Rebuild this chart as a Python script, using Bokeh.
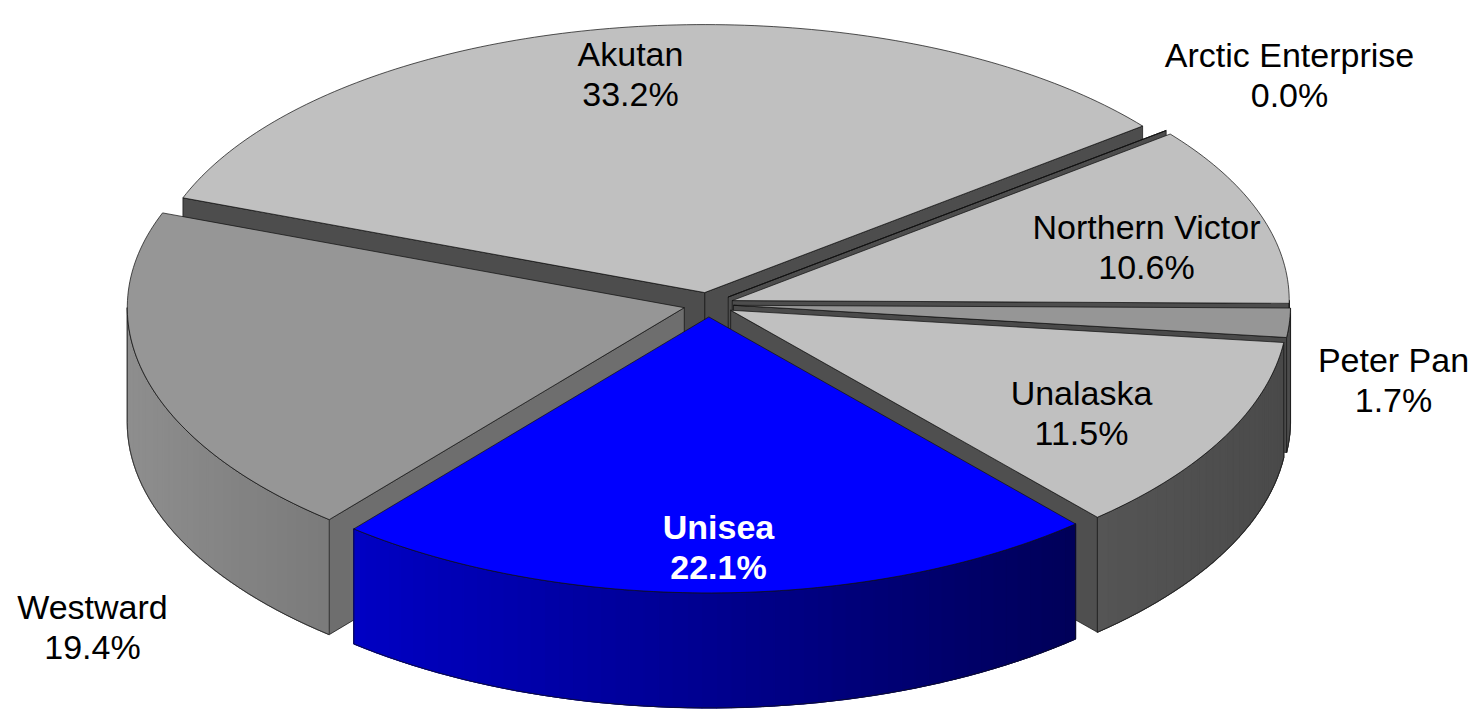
import numpy as np
from bokeh.plotting import figure
from bokeh.models import Range1d, ColumnDataSource
from bokeh.embed import file_html
from bokeh.resources import INLINE
from bokeh.core.properties import value

# ---------------- data ----------------
companies = ["Akutan", "Arctic Enterprise", "Northern Victor", "Peter Pan",
             "Unalaska", "Unisea", "Westward"]
share_pct = [33.2, 0.0, 10.6, 1.7, 11.5, 22.1, 19.4]

# ---------------- styles ----------------
top_fill = ["#c0c0c0", "#969696", "#c0c0c0", "#969696", "#c0c0c0", "#0000ff", "#969696"]
radial_fill = ["#4d4d4d", "#4d4d4d", "#4d4d4d", "#4a4a4a", "#4f4f4f", "#0000a0", "#6e6e6e"]
outer_left = ["#4d4d4d", "#4d4d4d", "#4d4d4d", "#4d4d4d", "#555555", "#0000c4", "#8e8e8e"]
outer_right = ["#4d4d4d", "#4d4d4d", "#4d4d4d", "#4a4a4a", "#4a4a4a", "#000058", "#7a7a7a"]
label_color = ["black", "black", "black", "black", "black", "white", "black"]
label_style = ["normal", "normal", "normal", "normal", "normal", "bold", "normal"]
# label layout: centre x and first-line baseline (page pixels)
label_anchor = [(630, 53), (1289, 54), (1146, 226), (1393, 359), (1081, 392), (718, 526), (92, 606)]

# ---------------- geometry ----------------
CX, CY = 708.0, 304.0
A = 557.0
B_BACK, B_FRONT = 268.0, 276.0
DEPTH = 115.0
EXPLODE = 0.045
START = np.deg2rad(200.5)
FONT = "Liberation Sans"
FSIZE = "34px"
LINE_GAP = 40


def bscale(th):
    return (B_BACK + B_FRONT) / 2 + (B_FRONT - B_BACK) / 2 * np.sin(th)


def hex2rgb(h):
    h = h.lstrip("#")
    return np.array([int(h[i:i + 2], 16) for i in (0, 2, 4)], dtype=float)


def rgb2hex(c):
    c = np.clip(np.round(c), 0, 255).astype(int)
    return "#%02x%02x%02x" % tuple(c)


total = float(sum(share_pct))
spans = [v / total * 2 * np.pi for v in share_pct]
starts = START + np.concatenate([[0.0], np.cumsum(spans)[:-1]])


def rim(th, ox, oy, z=0.0):
    return CX + ox + A * np.cos(th), CY + oy + bscale(th) * np.sin(th) + z


radial_walls = []   # (key, xs, ys, color)
outer_walls = []    # (key, quads, outline xs, ys, mid color)
tops = []           # (xs, ys, color)

for i in range(len(companies)):
    s = starts[i] % (2 * np.pi)
    e = s + spans[i]
    m = s + spans[i] / 2
    ox = EXPLODE * A * np.cos(m)
    oy = EXPLODE * bscale(m) * np.sin(m)
    apx, apy = CX + ox, CY + oy

    # top face
    n = max(2, int(np.degrees(spans[i])) + 2)
    th = np.linspace(s, e, n)
    rx, ry = rim(th, ox, oy)
    tops.append(([apx] + list(rx), [apy] + list(ry), top_fill[i]))

    # radial walls that face the viewer
    for phi, visible in ((s, np.cos(s) < 0), (e, np.cos(e) > 0)):
        if visible:
            px, py = rim(phi, ox, oy)
            xs = [apx, px, px, apx]
            ys = [apy, py, py + DEPTH, apy + DEPTH]
            radial_walls.append(((apy + py) / 2, xs, ys, radial_fill[i]))

    # outer (curved) walls on the front half
    for k in (0.0, 2 * np.pi):
        lo, hi = max(s, k), min(e, k + np.pi)
        if hi - lo > 1e-6:
            nn = max(2, int(np.degrees(hi - lo) / 1.5) + 2)
            th = np.linspace(lo, hi, nn)
            tx, ty = rim(th, ox, oy)
            bx, by = rim(th, ox, oy, DEPTH)
            xl, xr = tx.min(), tx.max()
            cl, cr = hex2rgb(outer_left[i]), hex2rgb(outer_right[i])
            quads = []
            for j in range(nn - 1):
                xm = (tx[j] + tx[j + 1]) / 2
                t = 0.0 if xr == xl else (xr - xm) / (xr - xl)
                col = rgb2hex(cr * (1 - t) + cl * t)
                quads.append(([tx[j], tx[j + 1], bx[j + 1], bx[j]],
                              [ty[j], ty[j + 1], by[j + 1], by[j]], col))
            oxs = list(tx) + list(bx[::-1])
            oys = list(ty) + list(by[::-1])
            outer_walls.append((float(np.mean(ty)), quads, oxs, oys, rgb2hex((cl + cr) / 2)))

# ---------------- figure ----------------
W, H = 1475, 709
p = figure(width=W, height=H, x_range=Range1d(0, W), y_range=Range1d(H, 0),
           output_backend="svg", toolbar_location=None, min_border=0)
p.axis.visible = False
p.grid.visible = False
p.outline_line_color = None
p.background_fill_color = "white"
p.border_fill_color = "white"

EDGE = dict(line_color="#111111", line_width=0.8, line_alpha=0.9)

radial_walls.sort(key=lambda r: r[0])
if radial_walls:
    src = ColumnDataSource(dict(xs=[r[1] for r in radial_walls], ys=[r[2] for r in radial_walls],
                                c=[r[3] for r in radial_walls]))
    p.patches("xs", "ys", source=src, fill_color="c", **EDGE)

outer_walls.sort(key=lambda r: r[0])
for key, quads, oxs, oys, midc in outer_walls:
    p.patch(oxs, oys, fill_color=midc, line_color=midc, line_width=1)
    src = ColumnDataSource(dict(xs=[q[0] for q in quads], ys=[q[1] for q in quads],
                                c=[q[2] for q in quads]))
    p.patches("xs", "ys", source=src, fill_color="c", line_color="c", line_width=1.2)
    p.patch(oxs, oys, fill_alpha=0, **EDGE)

src = ColumnDataSource(dict(xs=[t[0] for t in tops], ys=[t[1] for t in tops],
                            c=[t[2] for t in tops]))
p.patches("xs", "ys", source=src, fill_color="c", **EDGE)

# ---------------- labels ----------------
for i, name in enumerate(companies):
    lx, ly = label_anchor[i]
    for txt, yy in ((name, ly), ("%.1f%%" % share_pct[i], ly + LINE_GAP)):
        p.text(x=[lx], y=[yy], text=[txt], text_font=value(FONT),
               text_font_size=value(FSIZE), text_font_style=label_style[i],
               text_color=label_color[i], text_align="center", text_baseline="alphabetic")

open("out.html", "w").write(file_html(p, INLINE))
